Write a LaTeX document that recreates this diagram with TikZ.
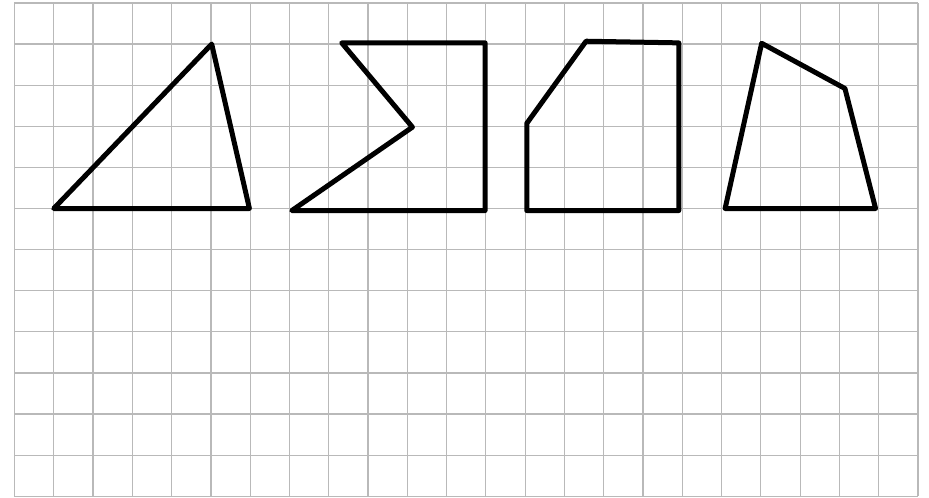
\documentclass[tikz,border=0pt]{standalone}
\begin{document}
\begin{tikzpicture}[x=19.64pt, y=-20.55pt,
    cell/.style ={draw=gray!55, line width=0.6pt},
    outline/.style ={draw=black, line width=2.5pt, line join=round, line cap=round}]
   \useasboundingbox (-0.369,-0.073) rectangle (23.28,12.02);
   % squared paper
   \foreach \i in {0,...,23} \draw[cell] (\i,0) -- (\i,12);
   \foreach \j in {0,...,12} \draw[cell] (0,\j) -- (23,\j);

   % triangle
   \coordinate (A1) at (1,5);
   \coordinate (A2) at (5.02,1);
   \coordinate (A3) at (5.98,5);
   % notched pentagon
   \coordinate (B1) at (7.06,5.05);
   \coordinate (B2) at (10.13,3.02);
   \coordinate (B3) at (8.33,0.97);
   \coordinate (B4) at (11.98,0.97);
   \coordinate (B5) at (11.98,5.05);
   % cut-corner pentagon
   \coordinate (C1) at (13.04,5.05);
   \coordinate (C2) at (13.04,2.93);
   \coordinate (C3) at (14.55,0.93);
   \coordinate (C4) at (16.91,0.97);
   \coordinate (C5) at (16.91,5.05);
   % quadrilateral
   \coordinate (D1) at (18.09,5);
   \coordinate (D2) at (19.02,0.98);
   \coordinate (D3) at (21.14,2.08);
   \coordinate (D4) at (21.92,5);

   \draw[outline] (A1) -- (A2) -- (A3) -- cycle;
   \draw[outline] (B1) -- (B2) -- (B3) -- (B4) -- (B5) -- cycle;
   \draw[outline] (C1) -- (C2) -- (C3) -- (C4) -- (C5) -- cycle;
   \draw[outline] (D1) -- (D2) -- (D3) -- (D4) -- cycle;
\end{tikzpicture}
\end{document}
